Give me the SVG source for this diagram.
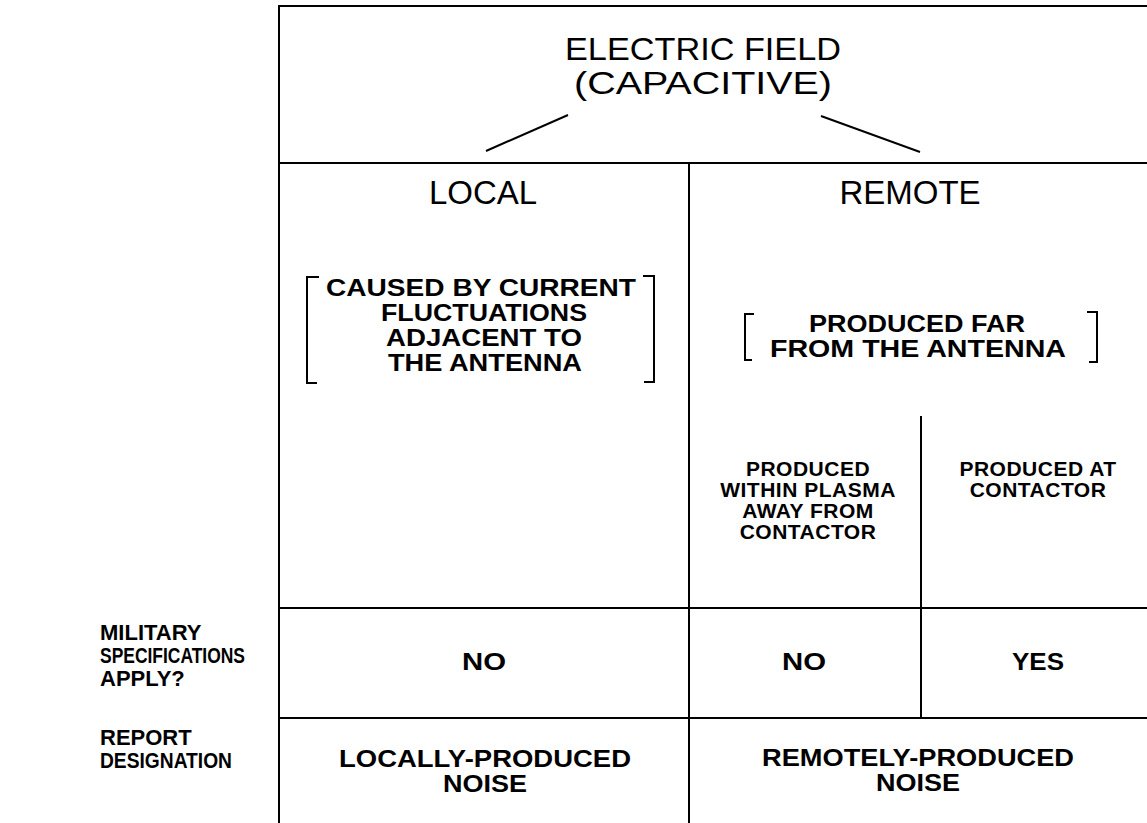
<svg xmlns="http://www.w3.org/2000/svg" width="1147" height="823" viewBox="0 0 1147 823">
<style>
  .ln { stroke: #000; stroke-width: 2; fill: none; }
  .t { font-family: "Liberation Sans", Arial, sans-serif; fill: #000; text-anchor: middle; }
  .big { font-size: 32px; }
  .hd { font-size: 33px; }
  .bold { font-size: 23px; font-weight: bold; }
  .sm { font-size: 21px; font-weight: bold; letter-spacing: 0.5px; }
  .lbl { font-family: "Liberation Sans", Arial, sans-serif; font-size: 22px; font-weight: bold; fill: #000; }
</style>
<rect width="1147" height="823" fill="#fff"/>
<g id="grid">
  <line class="ln" x1="279" y1="6" x2="1147" y2="6"/>
  <line class="ln" x1="279" y1="5" x2="279" y2="823"/>
  <line class="ln" x1="279" y1="163" x2="1147" y2="163"/>
  <line class="ln" x1="689" y1="163" x2="689" y2="823"/>
  <line class="ln" x1="921" y1="416" x2="921" y2="718"/>
  <line class="ln" x1="279" y1="608" x2="1147" y2="608"/>
  <line class="ln" x1="279" y1="718" x2="1147" y2="718"/>
</g>
<g id="root">
  <text class="t big"><tspan x="703" y="60" textLength="276" lengthAdjust="spacingAndGlyphs">ELECTRIC FIELD</tspan><tspan x="703" y="94" textLength="258" lengthAdjust="spacingAndGlyphs">(CAPACITIVE)</tspan></text>
</g>
<g id="connectors">
  <line class="ln" x1="568" y1="115" x2="486" y2="151"/>
  <line class="ln" x1="821" y1="116" x2="920" y2="152"/>
</g>
<g id="local">
  <text class="t hd" x="483" y="204">LOCAL</text>
  <path class="ln" d="M319,277 H307 V383 H317"/>
  <path class="ln" d="M643,276 H654 V382 H644"/>
  <text class="t bold"><tspan x="481" y="296" textLength="310" lengthAdjust="spacingAndGlyphs">CAUSED BY CURRENT</tspan><tspan x="484" y="321" textLength="206" lengthAdjust="spacingAndGlyphs">FLUCTUATIONS</tspan><tspan x="484" y="346" textLength="196" lengthAdjust="spacingAndGlyphs">ADJACENT TO</tspan><tspan x="485" y="371" textLength="194" lengthAdjust="spacingAndGlyphs">THE ANTENNA</tspan></text>
</g>
<g id="remote">
  <text class="t hd" x="910" y="204">REMOTE</text>
  <path class="ln" d="M754,314 H745 V360 H752"/>
  <path class="ln" d="M1087,312 H1097 V362 H1089"/>
  <text class="t bold"><tspan x="917" y="332" textLength="216" lengthAdjust="spacingAndGlyphs">PRODUCED FAR</tspan><tspan x="918" y="357" textLength="296" lengthAdjust="spacingAndGlyphs">FROM THE ANTENNA</tspan></text>
</g>
<g id="plasma">
  <text class="t sm"><tspan x="808" y="476">PRODUCED</tspan><tspan x="808" y="497">WITHIN PLASMA</tspan><tspan x="808" y="518">AWAY FROM</tspan><tspan x="808" y="539">CONTACTOR</tspan></text>
</g>
<g id="contactor">
  <text class="t sm"><tspan x="1038" y="476">PRODUCED AT</tspan><tspan x="1038" y="497">CONTACTOR</tspan></text>
</g>
<g id="mil-row">
  <text class="lbl"><tspan x="100" y="640">MILITARY</tspan><tspan x="100" y="663" textLength="145" lengthAdjust="spacingAndGlyphs">SPECIFICATIONS</tspan><tspan x="100" y="686">APPLY?</tspan></text>
  <text class="t bold" x="484" y="670" textLength="44" lengthAdjust="spacingAndGlyphs">NO</text>
  <text class="t bold" x="804" y="670" textLength="44" lengthAdjust="spacingAndGlyphs">NO</text>
  <text class="t bold" x="1038" y="670" textLength="52" lengthAdjust="spacingAndGlyphs">YES</text>
</g>
<g id="report-row">
  <text class="lbl"><tspan x="100" y="745">REPORT</tspan><tspan x="100" y="768" textLength="132" lengthAdjust="spacingAndGlyphs">DESIGNATION</tspan></text>
  <text class="t bold"><tspan x="485" y="767" textLength="292" lengthAdjust="spacingAndGlyphs">LOCALLY-PRODUCED</tspan><tspan x="485" y="792" textLength="84" lengthAdjust="spacingAndGlyphs">NOISE</tspan></text>
  <text class="t bold"><tspan x="918" y="766" textLength="312" lengthAdjust="spacingAndGlyphs">REMOTELY-PRODUCED</tspan><tspan x="918" y="791" textLength="84" lengthAdjust="spacingAndGlyphs">NOISE</tspan></text>
</g>
</svg>
